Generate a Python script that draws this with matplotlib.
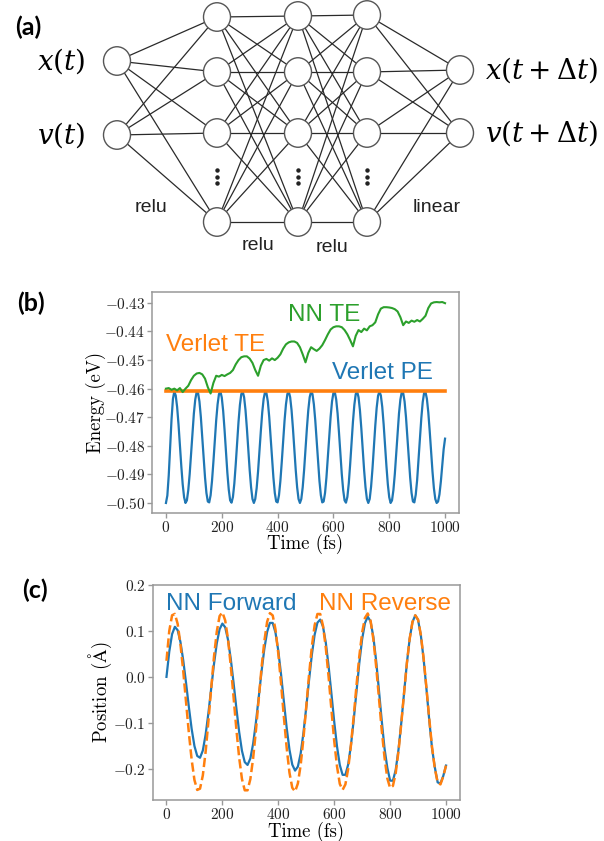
import numpy as np
import matplotlib.pyplot as plt
from matplotlib.patches import Ellipse

plt.rcParams['font.family'] = ['cmr10', 'DejaVu Serif']
plt.rcParams['mathtext.fontset'] = 'cm'
plt.rcParams['axes.formatter.use_mathtext'] = True

# ---------------- data ----------------
# (b) Verlet potential energy, every 5 fs
time_pe = np.arange(0, 1001, 5)
verlet_pe = [
    -0.5000, -0.4974, -0.4903, -0.4805, -0.4707, -0.4636, -0.4610, -0.4624, -0.4664, -0.4725,
    -0.4798, -0.4871, -0.4935, -0.4980, -0.5000, -0.4991, -0.4955, -0.4899, -0.4827, -0.4754,
    -0.4687, -0.4638, -0.4612, -0.4615, -0.4645, -0.4699, -0.4768, -0.4842, -0.4911, -0.4965,
    -0.4995, -0.4998, -0.4973, -0.4923, -0.4856, -0.4783, -0.4711, -0.4655, -0.4619, -0.4610,
    -0.4631, -0.4678, -0.4745, -0.4820, -0.4894, -0.4953, -0.4991, -0.4999, -0.4979, -0.4932,
    -0.4865, -0.4790, -0.4716, -0.4657, -0.4619, -0.4610, -0.4630, -0.4675, -0.4739, -0.4812,
    -0.4885, -0.4945, -0.4986, -0.5000, -0.4986, -0.4948, -0.4890, -0.4819, -0.4748, -0.4683,
    -0.4636, -0.4612, -0.4615, -0.4645, -0.4699, -0.4768, -0.4842, -0.4911, -0.4965, -0.4995,
    -0.4998, -0.4973, -0.4923, -0.4856, -0.4783, -0.4711, -0.4655, -0.4619, -0.4610, -0.4630,
    -0.4675, -0.4739, -0.4812, -0.4885, -0.4945, -0.4986, -0.5000, -0.4986, -0.4945, -0.4885,
    -0.4812, -0.4739, -0.4675, -0.4630, -0.4610, -0.4619, -0.4655, -0.4711, -0.4783, -0.4856,
    -0.4923, -0.4973, -0.4998, -0.4995, -0.4965, -0.4911, -0.4842, -0.4768, -0.4699, -0.4645,
    -0.4615, -0.4612, -0.4638, -0.4687, -0.4754, -0.4827, -0.4899, -0.4955, -0.4991, -0.4999,
    -0.4979, -0.4932, -0.4865, -0.4790, -0.4716, -0.4657, -0.4619, -0.4610, -0.4630, -0.4675,
    -0.4739, -0.4812, -0.4885, -0.4945, -0.4986, -0.5000, -0.4986, -0.4943, -0.4880, -0.4805,
    -0.4730, -0.4667, -0.4625, -0.4610, -0.4624, -0.4664, -0.4725, -0.4798, -0.4871, -0.4935,
    -0.4980, -0.5000, -0.4991, -0.4955, -0.4899, -0.4827, -0.4754, -0.4687, -0.4638, -0.4612,
    -0.4615, -0.4645, -0.4699, -0.4768, -0.4842, -0.4911, -0.4965, -0.4995, -0.4998, -0.4971,
    -0.4920, -0.4850, -0.4775, -0.4703, -0.4647, -0.4615, -0.4612, -0.4636, -0.4683, -0.4748,
    -0.4819, -0.4890, -0.4948, -0.4986, -0.5000, -0.4995, -0.4970, -0.4925, -0.4868, -0.4812,
    -0.4775,
]

# (b) NN total energy, every 10 fs
time_te = np.arange(0, 1001, 10)
nn_te = [
    -0.4600, -0.4598, -0.4604, -0.4600, -0.4606, -0.4598, -0.4612, -0.4600, -0.4590, -0.4570,
    -0.4555, -0.4547, -0.4545, -0.4550, -0.4565, -0.4595, -0.4617, -0.4580, -0.4555, -0.4558,
    -0.4552, -0.4556, -0.4550, -0.4545, -0.4535, -0.4515, -0.4500, -0.4490, -0.4487, -0.4487,
    -0.4495, -0.4510, -0.4535, -0.4555, -0.4520, -0.4500, -0.4496, -0.4502, -0.4494, -0.4500,
    -0.4492, -0.4480, -0.4460, -0.4445, -0.4438, -0.4435, -0.4435, -0.4440, -0.4455, -0.4480,
    -0.4508, -0.4475, -0.4455, -0.4462, -0.4468, -0.4460, -0.4448, -0.4430, -0.4410, -0.4393,
    -0.4385, -0.4382, -0.4382, -0.4385, -0.4395, -0.4410, -0.4430, -0.4452, -0.4415, -0.4395,
    -0.4402, -0.4390, -0.4396, -0.4382, -0.4378, -0.4368, -0.4340, -0.4320, -0.4315, -0.4315,
    -0.4316, -0.4318, -0.4322, -0.4330, -0.4350, -0.4378, -0.4365, -0.4370, -0.4362, -0.4366,
    -0.4360, -0.4365, -0.4356, -0.4345, -0.4318, -0.4302, -0.4298, -0.4297, -0.4298, -0.4297,
    -0.4301,
]

# (b) Verlet total energy (flat)
time_verlet_te = [0, 1000]
verlet_te = [-0.461, -0.461]

# (c) positions, every 10 fs
time_pos = np.arange(0, 1001, 10)
nn_forward = [
    0.0000, 0.0550, 0.0930, 0.1090, 0.1016, 0.0758, 0.0358, -0.0131, -0.0652, -0.1129,
    -0.1504, -0.1721, -0.1761, -0.1603, -0.1257, -0.0788, -0.0249, 0.0281, 0.0732, 0.1037,
    0.1160, 0.1080, 0.0812, 0.0390, -0.0131, -0.0682, -0.1199, -0.1609, -0.1855, -0.1917,
    -0.1777, -0.1455, -0.0987, -0.0444, 0.0114, 0.0607, 0.0978, 0.1175, 0.1174, 0.0963,
    0.0568, 0.0047, -0.0537, -0.1110, -0.1586, -0.1910, -0.2040, -0.1954, -0.1668, -0.1218,
    -0.0662, -0.0073, 0.0480, 0.0918, 0.1181, 0.1247, 0.1093, 0.0742, 0.0230, -0.0363,
    -0.0973, -0.1512, -0.1918, -0.2133, -0.2132, -0.1907, -0.1483, -0.0925, -0.0300, 0.0314,
    0.0824, 0.1171, 0.1310, 0.1209, 0.0874, 0.0352, -0.0288, -0.0951, -0.1556, -0.1979,
    -0.2258, -0.2261, -0.2025, -0.1582, -0.0998, -0.0344, 0.0298, 0.0832, 0.1195, 0.1340,
    0.1241, 0.0902, 0.0380, -0.0264, -0.0938, -0.1556, -0.1971, -0.2296, -0.2320, -0.2160,
    -0.1930,
]
nn_reverse = [
    0.0350, 0.1000, 0.1340, 0.1371, 0.1154, 0.0709, 0.0125, -0.0545, -0.1214, -0.1799,
    -0.2244, -0.2461, -0.2433, -0.2146, -0.1632, -0.0967, -0.0243, 0.0438, 0.0986, 0.1324,
    0.1406, 0.1230, 0.0827, 0.0241, -0.0439, -0.1139, -0.1757, -0.2222, -0.2469, -0.2469,
    -0.2227, -0.1771, -0.1166, -0.0480, 0.0195, 0.0772, 0.1197, 0.1388, 0.1338, 0.1030,
    0.0511, -0.0156, -0.0874, -0.1545, -0.2087, -0.2414, -0.2496, -0.2321, -0.1919, -0.1334,
    -0.0655, 0.0043, 0.0659, 0.1123, 0.1369, 0.1369, 0.1110, 0.0632, 0.0000, -0.0708,
    -0.1391, -0.1947, -0.2329, -0.2460, -0.2341, -0.1999, -0.1477, -0.0847, -0.0168, 0.0458,
    0.0969, 0.1284, 0.1380, 0.1224, 0.0824, 0.0233, -0.0453, -0.1157, -0.1752, -0.2209,
    -0.2419, -0.2373, -0.2094, -0.1619, -0.1012, -0.0345, 0.0303, 0.0831, 0.1197, 0.1340,
    0.1244, 0.0911, 0.0393, -0.0240, -0.0913, -0.1531, -0.1996, -0.2297, -0.2340, -0.2170,
    -0.1930,
]

# (a) network labels
input_labels = [r'$x(t)$', r'$v(t)$']
output_labels = [r'$x(t + \Delta t)$', r'$v(t + \Delta t)$']
activations = ['relu', 'relu', 'relu', 'linear']

# ---------------- figure ----------------
W, H = 604, 841
fig = plt.figure(figsize=(W / 100, H / 100), dpi=100)

# (a) network diagram, drawn in pixel-like coordinates
ax0 = fig.add_axes([0, 1 - 260 / H, 1, 260 / H])
ax0.set_xlim(0, W)
ax0.set_ylim(260, 0)
ax0.axis('off')

layer_x = [117, 217, 298, 367, 460]
layer_y = [[61, 135], [17, 72, 133, 222], [16, 72, 133, 222], [15, 72, 133, 222], [70, 133]]

for i in range(len(layer_x) - 1):
    for ya in layer_y[i]:
        for yb in layer_y[i + 1]:
            ax0.plot([layer_x[i], layer_x[i + 1]], [ya, yb], color='#2a2a2a', lw=0.9, zorder=1)

for x, ys in zip(layer_x, layer_y):
    for y in ys:
        ax0.add_patch(Ellipse((x, y), 27, 28.5, facecolor='white', edgecolor='#555555', lw=1.0, zorder=2))

for x in layer_x[1:4]:
    ax0.plot([x, x, x], [170, 176.5, 183], 'o', color='#222222', ms=2.2, zorder=3)

for lab, y in zip(input_labels, layer_y[0]):
    ax0.text(61, y, lab, fontsize=20, ha='center', va='center', math_fontfamily='dejavuserif')
for lab, y in zip(output_labels, layer_y[-1]):
    ax0.text(485, y, lab, fontsize=20, ha='left', va='center', math_fontfamily='dejavuserif')

act_pos = [(151, 208), (258, 245), (332, 247), (437, 208)]
for lab, (x, y) in zip(activations, act_pos):
    ax0.text(x, y, lab, fontsize=14, ha='center', va='center', family='Liberation Sans', color='#222222')

# panel letters
for lab, (x, y) in zip(['(a)', '(b)', '(c)'], [(28, 27), (31, 303), (35, 590)]):
    fig.text(x / W, 1 - y / H, lab, fontsize=18, fontweight='bold', family='Lato',
             ha='center', va='center')

blue, orange, green = '#1f77b4', '#ff7f0e', '#2ca02c'


def style_axes(ax):
    for s in ax.spines.values():
        s.set_color('#999999')
        s.set_linewidth(1.1)
    ax.tick_params(colors='#999999', labelcolor='#222222', labelsize=11, length=3.5, width=1, pad=1.5)


# (b) energies
ax1 = fig.add_axes([152 / W, 1 - 513 / H, 307 / W, 221 / H])
ax1.plot(time_pe, verlet_pe, color=blue, lw=1.6)
ax1.plot(time_verlet_te, verlet_te, color=orange, lw=2.6)
ax1.plot(time_te, nn_te, color=green, lw=1.5)
ax1.set_xlim(-50, 1050)
ax1.set_xticks([0, 200, 400, 600, 800, 1000])
ax1.set_yticks([-0.50, -0.49, -0.48, -0.47, -0.46, -0.45, -0.44, -0.43])
style_axes(ax1)
ax1.set_xlabel('Time (fs)', fontsize=13.5, labelpad=-1)
ax1.set_ylabel('Energy (eV)', fontsize=13.5, labelpad=-1)
ax1.text(566, -0.4364, 'NN TE', color=green, fontsize=17.5, family='Liberation Sans', ha='center', va='baseline')
ax1.text(179, -0.4468, 'Verlet TE', color=orange, fontsize=17.5, family='Liberation Sans', ha='center', va='baseline')
ax1.text(776, -0.4567, 'Verlet PE', color=blue, fontsize=17.5, family='Liberation Sans', ha='center', va='baseline')

# (c) positions
ax2 = fig.add_axes([152.5 / W, 1 - 800 / H, 307.5 / W, 215 / H])
ax2.plot(time_pos, nn_forward, color=blue, lw=1.6)
ax2.plot(time_pos, nn_reverse, color=orange, lw=1.8, ls='--')
ax2.set_xlim(-50, 1050)
ax2.set_ylim(-0.268, 0.2)
ax2.set_xticks([0, 200, 400, 600, 800, 1000])
ax2.set_yticks([-0.2, -0.1, 0.0, 0.1, 0.2])
style_axes(ax2)
ax2.set_xlabel('Time (fs)', fontsize=13.5, labelpad=0)
ax2.set_ylabel(r'Position ($\mathrm{Å}$)', fontsize=13.5, labelpad=-1)
ax2.text(230, 0.1465, 'NN Forward', color=blue, fontsize=17.5, family='Liberation Sans', ha='center', va='baseline')
ax2.text(783, 0.1465, 'NN Reverse', color=orange, fontsize=17.5, family='Liberation Sans', ha='center', va='baseline')

fig.savefig('out.png', dpi=100)
